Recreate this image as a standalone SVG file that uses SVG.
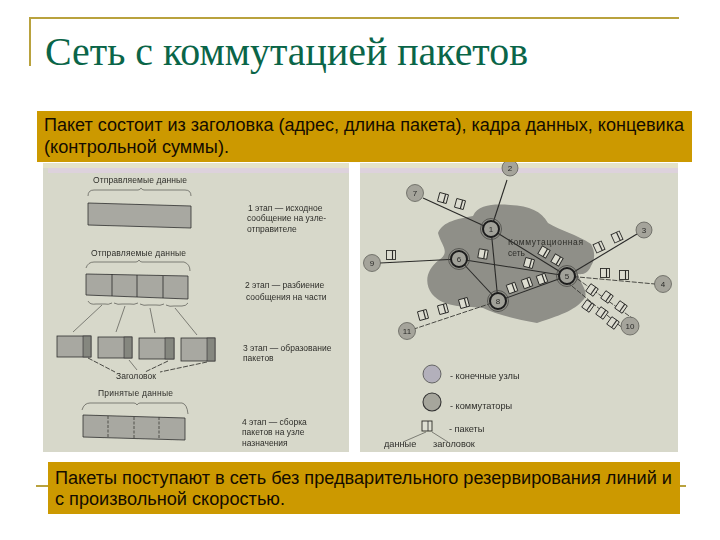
<svg xmlns="http://www.w3.org/2000/svg" width="720" height="540" viewBox="0 0 720 540">
<style>
.rule{stroke:#b9a23e;stroke-width:2;fill:none}
.band{fill:#cc9900}
.bt{font-family:"Liberation Sans",Arial,sans-serif;font-size:17.5px;fill:#140c00}
.t{font-family:"Liberation Sans",Arial,sans-serif;font-size:8.5px;fill:#2e2e2a}
.l{font-size:9.2px}
.c{text-anchor:middle}
.ph{fill:#d7d8ca}
.stripe{fill:#ddd2dc}
.top{fill:#e4e2c8}
.box{fill:#a8a8a1;stroke:#2e2e2e;stroke-width:.8}
.hdr{fill:#85877f;stroke:#2e2e2e;stroke-width:.6}
.brace{fill:none;stroke:#55554f;stroke-width:.7}
.link{fill:none;stroke:#2a2a28;stroke-width:1.1}
.dash{fill:none;stroke:#3a3a36;stroke-width:.9;stroke-dasharray:5 1.5}
.div{stroke:#2a2a28;stroke-width:.8}
.divd{stroke:#3a3a36;stroke-width:.8;stroke-dasharray:3 1.5}
.end{fill:#a5a49b;stroke:#55554f;stroke-width:.7}
.sw{fill:#a1a199;stroke:#1e1e1e;stroke-width:2}
.swo{fill:none;stroke:#4a4a46;stroke-width:.8}
.n{font-family:"Liberation Sans",Arial,sans-serif;font-size:8px;fill:#2a2a28;text-anchor:middle}
</style>
<defs>
<g id="pkt"><rect x="-4.5" y="-4.5" width="9" height="9" fill="#dcdcd0" stroke="#2a2a28" stroke-width=".9"/><line x1="1.5" y1="-4.5" x2="1.5" y2="4.5" stroke="#2a2a28" stroke-width="1.1"/></g>
<filter id="soft" x="-5%" y="-5%" width="110%" height="110%"><feGaussianBlur stdDeviation="0.3"/></filter>
</defs>
<rect width="720" height="540" fill="#fff"/>
<g id="title">
<path class="rule" d="M30 66V18H679"/>
<text x="45" y="65" font-family="'Liberation Serif','Times New Roman',serif" font-size="41px" fill="#0a6548" textLength="483" lengthAdjust="spacingAndGlyphs">Сеть с коммутацией пакетов</text>
</g>
<g id="photo-left">
<rect class="ph" x="43" y="163" width="306" height="289"/>
<rect class="top" x="43" y="163" width="306" height="5"/>
<rect class="stripe" x="48" y="168" width="301" height="5"/>
</g>
<g id="photo-right">
<rect class="ph" x="360" y="163" width="318" height="289"/>
<rect class="top" x="360" y="163" width="318" height="5"/>
<rect class="stripe" x="360" y="168" width="318" height="5"/>
</g>
<g filter="url(#soft)">
<g id="stage-1">
<text class="t" x="93" y="183" textLength="94">Отправляемые данные</text>
<path class="brace" d="M88 196Q88 190 94 190H138Q140 190 141 188Q142 190 144 190H185Q191 190 191 196"/>
<path class="box" d="M88 203L191 206V228L88 225Z"/>
<text class="t" x="248" y="211">1 этап — исходное</text>
<text class="t" x="247" y="221">сообщение на узле-</text>
<text class="t" x="247" y="232">отправителе</text>
</g>
<g id="stage-2">
<text class="t" x="91" y="256" textLength="95">Отправляемые данные</text>
<path class="brace" d="M86 268Q88 262 94 262H136Q138 262 139 260Q140 262 142 262H184Q190 264 190 271"/>
<path class="box" d="M86 274L188 276V299L86 295Z"/>
<line class="div" x1="112" y1="274" x2="112" y2="296"/>
<line class="div" x1="137" y1="275" x2="137" y2="297"/>
<line class="div" x1="163" y1="276" x2="163" y2="298"/>
<text class="t" x="245" y="288">2 этап — разбиение</text>
<text class="t" x="246" y="300">сообщения на части</text>
</g>
<g id="split-links">
<path class="brace" d="M88 301Q90 305 96 304H105Q108 305 112 303"/>
<path class="brace" d="M114 303Q118 305 122 304H130Q134 305 138 303"/>
<path class="brace" d="M140 304Q144 306 148 305H156Q160 306 164 304"/>
<path class="brace" d="M166 305Q170 307 174 306H182Q186 306 188 303"/>
<line class="brace" x1="102" y1="305" x2="73" y2="332"/>
<line class="brace" x1="125" y1="306" x2="116" y2="332"/>
<line class="brace" x1="150" y1="308" x2="155" y2="333"/>
<line class="brace" x1="175" y1="308" x2="197" y2="335"/>
</g>
<g id="stage-3">
<rect class="box" x="57" y="336" width="34" height="21"/><rect class="hdr" x="83" y="336" width="8" height="21"/>
<rect class="box" x="98" y="337" width="34" height="21"/><rect class="hdr" x="124" y="337" width="8" height="21"/>
<rect class="box" x="139" y="338" width="35" height="21"/><rect class="hdr" x="165" y="338" width="9" height="21"/>
<rect class="box" x="181" y="338" width="34" height="23"/><rect class="hdr" x="207" y="338" width="8" height="23"/>
<line class="dash" x1="88" y1="358" x2="115" y2="372"/>
<line class="brace" x1="129" y1="360" x2="137" y2="370"/>
<line class="dash" x1="168" y1="361" x2="145" y2="372"/>
<line class="dash" x1="207" y1="362" x2="160" y2="372"/>
<text class="t c" x="136" y="379">Заголовок</text>
<text class="t" x="243" y="351">3 этап — образование</text>
<text class="t" x="243" y="361">пакетов</text>
</g>
<g id="stage-4">
<text class="t" x="98" y="396" textLength="75">Принятые данные</text>
<path class="brace" d="M82 410Q84 403 90 403H134Q136 403 137 405Q138 403 140 403H182Q187 404 188 414"/>
<path class="box" d="M83 415L185 418V440L83 437Z"/>
<line class="divd" x1="108" y1="416" x2="108" y2="437"/>
<line class="divd" x1="134" y1="417" x2="134" y2="438"/>
<line class="divd" x1="159" y1="417" x2="159" y2="439"/>
<text class="t" x="242" y="425">4 этап — сборка</text>
<text class="t" x="242" y="435">пакетов на узле</text>
<text class="t" x="242" y="446">назначения</text>
</g>
<path id="cloud" d="M438 233C443 221 458 219 473 216C478 204 495 204 510 205C530 206 541 211 548 223C561 231 576 234 591 244C597 255 593 263 591 266C587 276 579 274 578 274C581 285 589 292 584 299C576 309 565 314 537 323C515 319 495 314 483 308C470 306 444 309 432 294C424 283 426 270 439 260C451 252 441 245 438 233Z" fill="#8f8f88"/>
<g id="connectors">
<line class="link" x1="423" y1="198" x2="491" y2="229"/>
<line class="link" x1="507" y1="180" x2="491" y2="229"/>
<line class="link" x1="491" y1="229" x2="567" y2="276"/>
<line class="link" x1="491" y1="229" x2="498" y2="301"/>
<line class="link" x1="459" y1="259" x2="567" y2="276"/>
<line class="link" x1="459" y1="259" x2="498" y2="301"/>
<line class="link" x1="498" y1="301" x2="567" y2="276"/>
<line class="link" x1="380" y1="263" x2="459" y2="259"/>
<line class="link" x1="567" y1="276" x2="637" y2="234"/>
<line class="dash" x1="567" y1="276" x2="655" y2="284"/>
<line class="dash" x1="572" y1="275" x2="632" y2="318"/>
<line class="dash" x1="567" y1="282" x2="625" y2="330"/>
<line class="dash" x1="498" y1="301" x2="414" y2="329"/>
</g>
<g id="packets">
<use href="#pkt" transform="translate(443 198) rotate(15)"/>
<use href="#pkt" transform="translate(460 204) rotate(15)"/>
<use href="#pkt" transform="translate(544 252) rotate(30)"/>
<use href="#pkt" transform="translate(557 260) rotate(30)"/>
<use href="#pkt" transform="translate(483 254) rotate(10)"/>
<use href="#pkt" transform="translate(529 263) rotate(15)"/>
<use href="#pkt" transform="translate(512 288) rotate(-20)"/>
<use href="#pkt" transform="translate(527 283) rotate(-20)"/>
<use href="#pkt" transform="translate(542 279) rotate(-20)"/>
<use href="#pkt" transform="translate(599 247) rotate(-25)"/>
<use href="#pkt" transform="translate(617 237) rotate(-25)"/>
<use href="#pkt" transform="translate(605 273)"/>
<use href="#pkt" transform="translate(624 275)"/>
<use href="#pkt" transform="translate(592 290) rotate(35)"/>
<use href="#pkt" transform="translate(607 297) rotate(35)"/>
<use href="#pkt" transform="translate(621 307) rotate(35)"/>
<use href="#pkt" transform="translate(588 306) rotate(35)"/>
<use href="#pkt" transform="translate(602 313) rotate(35)"/>
<use href="#pkt" transform="translate(613 323) rotate(35)"/>
<use href="#pkt" transform="translate(423 315) rotate(-15)"/>
<use href="#pkt" transform="translate(443 309) rotate(-15)"/>
<use href="#pkt" transform="translate(464 303) rotate(-15)"/>
<use href="#pkt" transform="translate(391 255)"/>
</g>
<g id="node-2"><circle class="end" cx="510" cy="168" r="8"/><text class="n" x="510" y="171">2</text></g>
<g id="node-7"><circle class="end" cx="415" cy="193" r="8.5"/><text class="n" x="415" y="196">7</text></g>
<g id="node-9"><circle class="end" cx="372" cy="263" r="8.5"/><text class="n" x="372" y="266">9</text></g>
<g id="node-3"><circle class="end" cx="644" cy="230" r="8"/><text class="n" x="644" y="233">3</text></g>
<g id="node-4"><circle class="end" cx="663" cy="284" r="8.5"/><text class="n" x="663" y="287">4</text></g>
<g id="node-10"><circle class="end" cx="630" cy="326" r="9"/><text class="n" x="630" y="329">10</text></g>
<g id="node-11"><circle class="end" cx="407" cy="331" r="8.5"/><text class="n" x="407" y="334">11</text></g>
<g id="switch-1"><circle class="swo" cx="491" cy="229" r="10.5"/><circle class="sw" cx="491" cy="229" r="8"/><text class="n" x="491" y="232">1</text></g>
<g id="switch-6"><circle class="swo" cx="459" cy="259" r="10.5"/><circle class="sw" cx="459" cy="259" r="8"/><text class="n" x="459" y="262">6</text></g>
<g id="switch-5"><circle class="swo" cx="567" cy="276" r="10.5"/><circle class="sw" cx="567" cy="276" r="8"/><text class="n" x="567" y="279">5</text></g>
<g id="switch-8"><circle class="swo" cx="498" cy="301" r="10.5"/><circle class="sw" cx="498" cy="301" r="8"/><text class="n" x="498" y="304">8</text></g>
<g id="cloud-label">
<text class="t" x="508" y="245" textLength="75">Коммутационная</text>
<text class="t" x="508" y="256">сеть</text>
</g>
<g id="legend">
<circle cx="432" cy="374" r="9" fill="#b3b0bb" stroke="#4c4c4c" stroke-width=".8"/>
<text class="t l" x="450" y="379">- конечные узлы</text>
<circle cx="432" cy="402" r="9" fill="#a6a69c" stroke="#333" stroke-width="1.1"/>
<text class="t l" x="450" y="409">- коммутаторы</text>
<rect x="422" y="421" width="10" height="10" fill="#dedfd2" stroke="#2a2a28" stroke-width=".9"/>
<line class="div" x1="428" y1="421" x2="428" y2="431"/>
<line class="brace" x1="426" y1="432" x2="403" y2="442"/>
<line class="brace" x1="432" y1="432" x2="448" y2="442"/>
<text class="t l" x="449" y="432">- пакеты</text>
<text class="t l" x="384" y="447">данные</text>
<text class="t l" x="433" y="447">заголовок</text>
</g>
</g>
<path class="rule" d="M36 486H686"/>
<g id="band-top">
<rect class="band" x="37" y="111" width="655" height="51"/>
<text class="bt" x="44" y="131" textLength="640" lengthAdjust="spacingAndGlyphs">Пакет состоит из заголовка (адрес, длина пакета), кадра данных, концевика</text>
<text class="bt" x="44" y="153" textLength="185" lengthAdjust="spacingAndGlyphs">(контрольной суммы).</text>
</g>
<g id="band-bottom">
<rect class="band" x="48" y="462" width="632" height="52"/>
<text class="bt" x="55" y="484" textLength="617" lengthAdjust="spacingAndGlyphs">Пакеты поступают в сеть без предварительного резервирования линий и</text>
<text class="bt" x="55" y="505" textLength="230" lengthAdjust="spacingAndGlyphs">с произвольной скоростью.</text>
</g>
</svg>
